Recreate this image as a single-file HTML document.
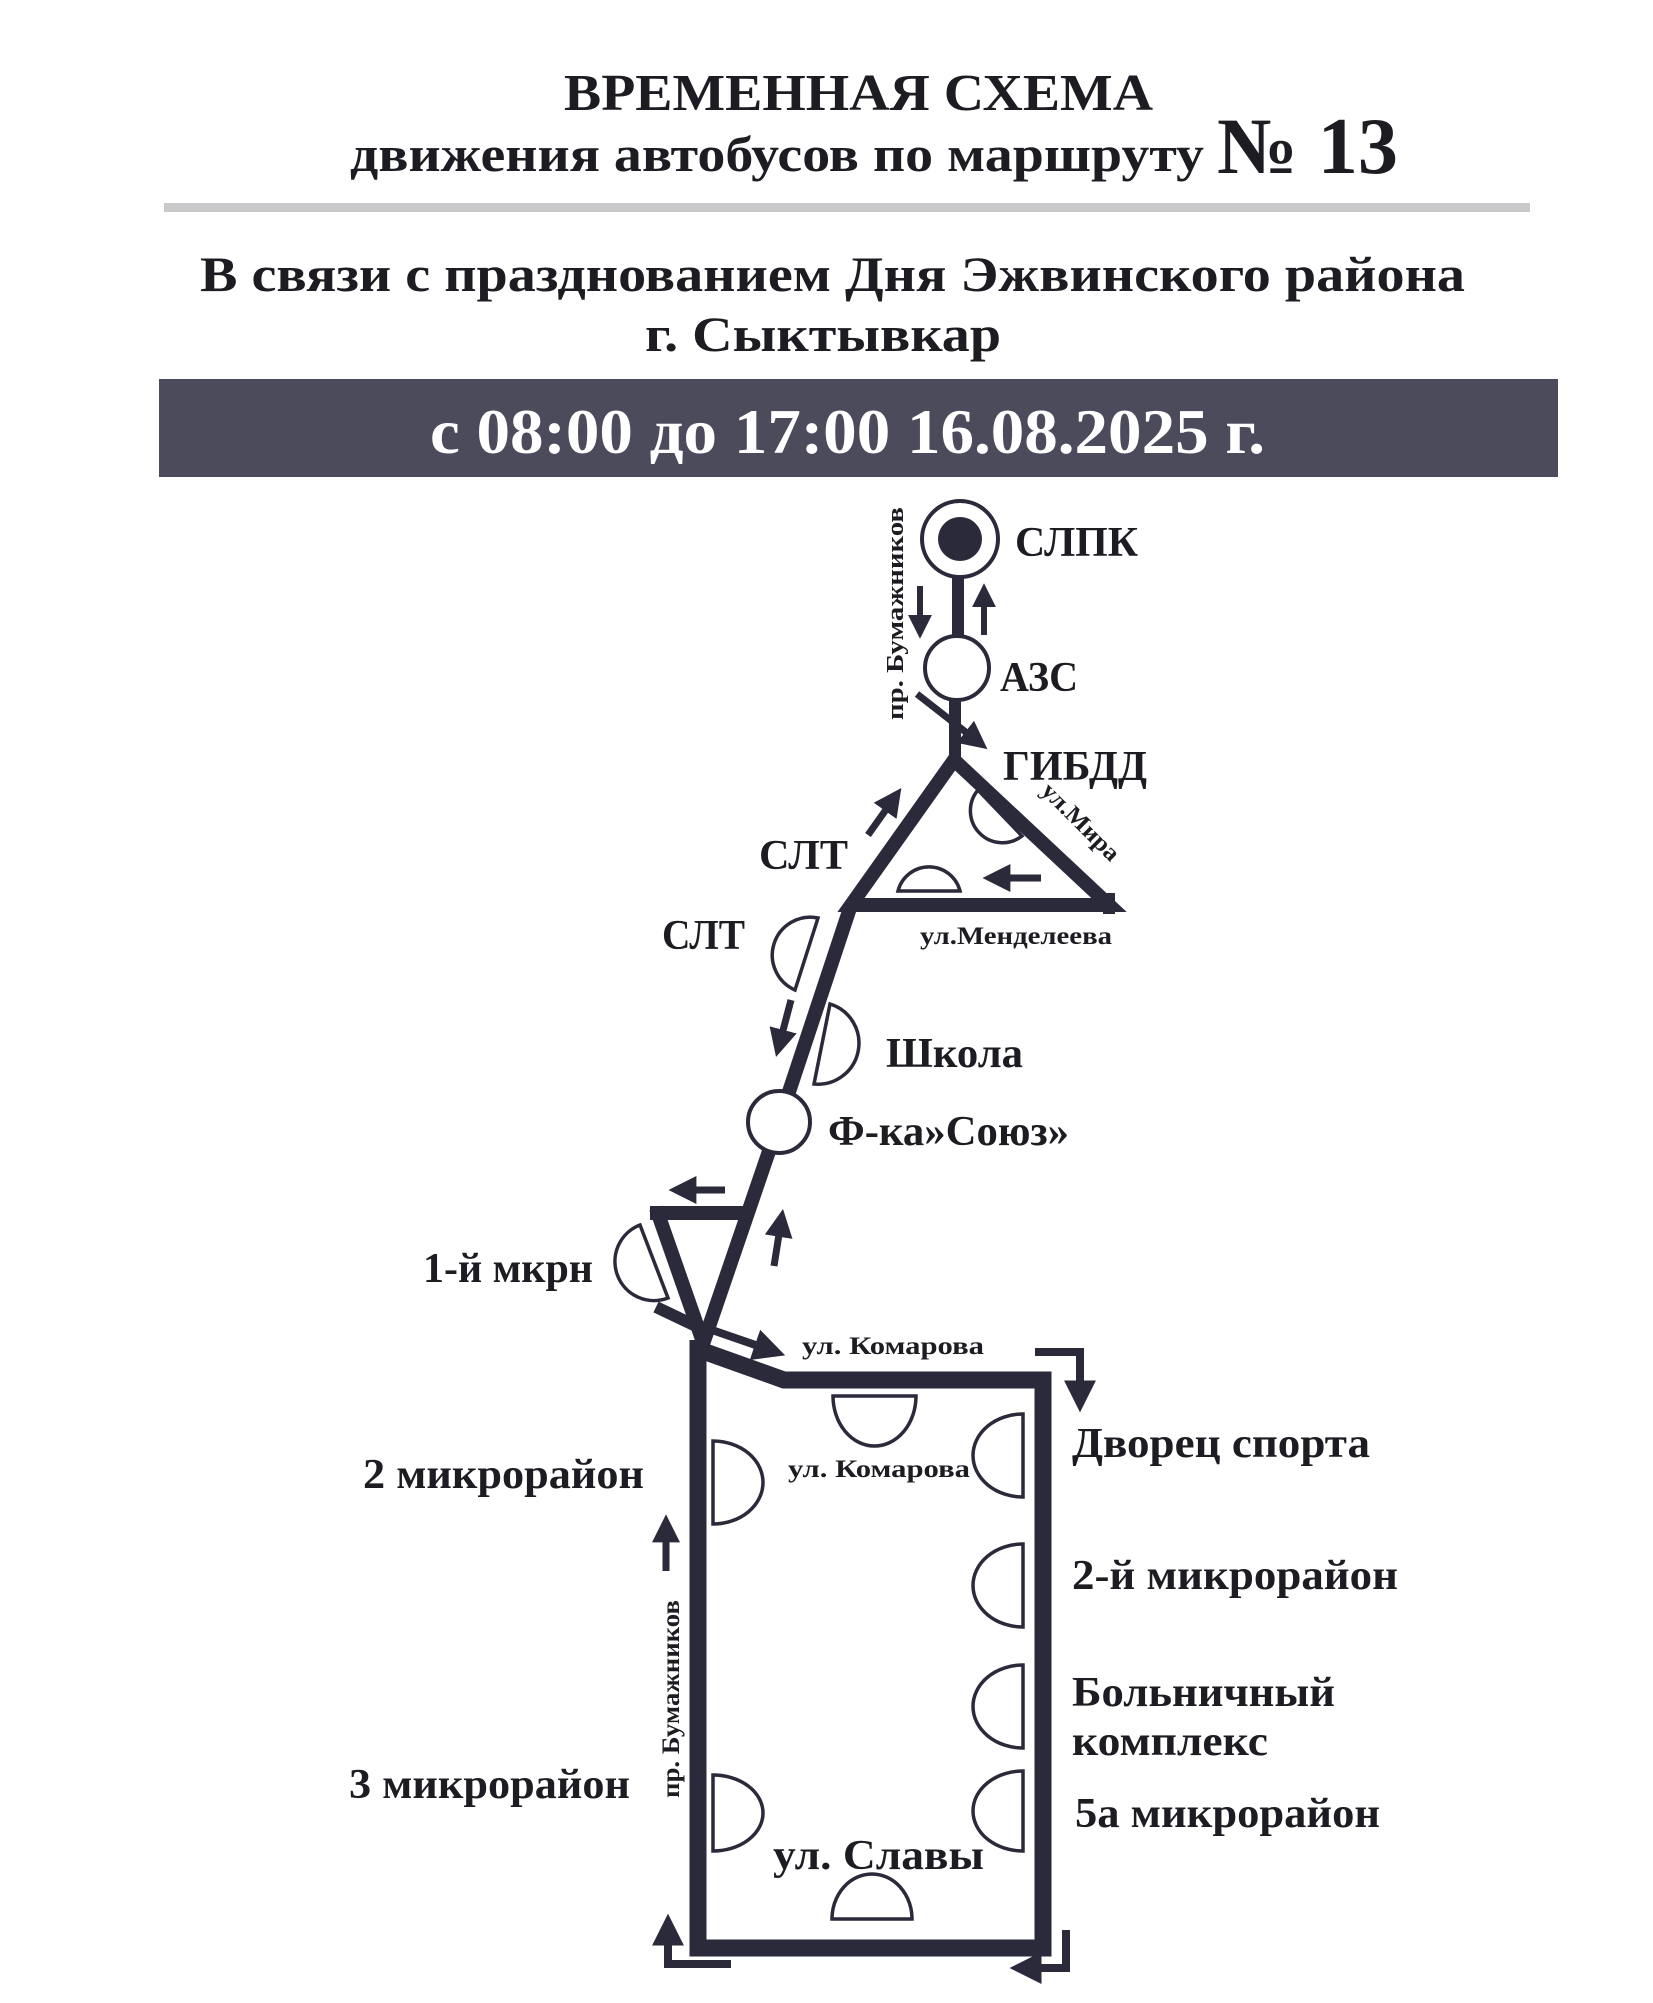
<!DOCTYPE html>
<html><head><meta charset="utf-8"><style>
html,body{margin:0;padding:0;background:#fff;}
svg{display:block;}
text{font-family:"Liberation Serif",serif;font-weight:bold;fill:#1c1c22;}
</style></head><body>
<svg width="1653" height="2003" viewBox="0 0 1653 2003" xmlns="http://www.w3.org/2000/svg">
<defs>
<marker id="ah" markerWidth="4" markerHeight="4" refX="1.2" refY="2" orient="auto" markerUnits="strokeWidth">
<path d="M0,0 L4,2 L0,4 Z" fill="#2a2a3a"/></marker>
</defs>
<!-- header -->
<text x="564" y="110" font-size="52" textLength="589" lengthAdjust="spacingAndGlyphs">ВРЕМЕННАЯ СХЕМА</text>
<text x="350" y="171" font-size="50" textLength="854" lengthAdjust="spacingAndGlyphs">движения автобусов по маршруту</text>
<text x="1217" y="173" font-size="80" textLength="181" lengthAdjust="spacingAndGlyphs">№ 13</text>
<rect x="164" y="203" width="1366" height="9" fill="#c9c9cc"/>
<text x="200" y="291" font-size="50" textLength="1265" lengthAdjust="spacingAndGlyphs">В связи с празднованием Дня Эжвинского района</text>
<text x="645" y="351" font-size="50" textLength="356" lengthAdjust="spacingAndGlyphs">г. Сыктывкар</text>
<rect x="159" y="379" width="1399" height="98" fill="#4b4b5c"/>
<text x="430" y="453" font-size="64" textLength="835" lengthAdjust="spacingAndGlyphs" style="fill:#fff">с 08:00 до 17:00 16.08.2025 г.</text>

<g stroke="#2a2a3a" fill="none">
<!-- СЛПК -->
<circle cx="960" cy="539" r="38" stroke-width="4" fill="#fff"/>
<circle cx="960" cy="539" r="22" fill="#2a2a3a" stroke="none"/>
<line x1="958" y1="577" x2="958" y2="636" stroke-width="12"/>
<line x1="920" y1="586" x2="920" y2="622" stroke-width="6" marker-end="url(#ah)"/>
<line x1="984" y1="635" x2="984" y2="600" stroke-width="6" marker-end="url(#ah)"/>
<circle cx="957" cy="668" r="32" stroke-width="4" fill="#fff"/>
<line x1="955" y1="700" x2="955" y2="762" stroke-width="12"/>
<line x1="917" y1="694" x2="972" y2="737" stroke-width="7" marker-end="url(#ah)"/>
<!-- triangle -->
<path d="M954,760 L851,905 L1109,905 Z" stroke-width="14" stroke-linejoin="miter"/>
<line x1="1109" y1="893" x2="1109" y2="914" stroke-width="12"/>
<path d="M978,790 A32,32 0 0 0 1022,836 Z" stroke-width="3.5" fill="#fff"/>
<path d="M898,891 A32,32 0 0 1 960,891 Z" stroke-width="3.5" fill="#fff"/>
<line x1="1041" y1="878" x2="1002" y2="878" stroke-width="7" marker-end="url(#ah)"/>
<line x1="868" y1="835" x2="890" y2="804" stroke-width="7" marker-end="url(#ah)"/>
<!-- main line -->
<polyline points="851,905 779,1122 702,1347" stroke-width="14"/>
<path d="M818,918 L795,990 A38,38 0 0 1 818,918 Z" stroke-width="3.5" fill="#fff"/>
<path d="M830,1004 A41,41 0 0 1 814,1084 Z" stroke-width="3.5" fill="#fff"/>
<line x1="791" y1="1000" x2="781" y2="1038" stroke-width="7" marker-end="url(#ah)"/>
<circle cx="779" cy="1122" r="31" stroke-width="4" fill="#fff"/>
<line x1="725" y1="1190" x2="688" y2="1190" stroke-width="7" marker-end="url(#ah)"/>
<polyline points="650,1213 748,1213" stroke-width="14"/>
<polyline points="656,1208 704,1345" stroke-width="14"/>
<line x1="774" y1="1266" x2="772" y2="1228" stroke-width="7" marker-end="url(#ah)" transform="rotate(12 774 1266)"/>
<path d="M640,1225 L668,1298 A39,39 0 0 1 640,1225 Z" stroke-width="3.5" fill="#fff"/>
<line x1="656" y1="1307" x2="700" y2="1328" stroke-width="12"/>
<line x1="712" y1="1330" x2="764" y2="1348" stroke-width="8" marker-end="url(#ah)"/>
<!-- rectangle -->
<path d="M698,1340 L698,1948 L1043,1948 L1043,1380 L784,1380 L700,1350" stroke-width="17" stroke-linejoin="miter"/>
<polyline points="1035,1352 1080,1352 1080,1390" stroke-width="8" marker-end="url(#ah)"/>
<polyline points="731,1964 668,1964 668,1936" stroke-width="8" marker-end="url(#ah)"/>
<polyline points="1066,1930 1066,1968 1032,1968" stroke-width="8" marker-end="url(#ah)"/>
<line x1="666" y1="1571" x2="666" y2="1534" stroke-width="7" marker-end="url(#ah)"/>
<g stroke-width="3.5" fill="#fff">
<path d="M833,1396 A41.5,50 0 0 0 916,1396 Z"/>
<path d="M832,1919 A40,45 0 0 1 912,1919 Z"/>
<path d="M1023,1414 A50,41.5 0 0 0 1023,1497 Z"/>
<path d="M1023,1544 A50,41.5 0 0 0 1023,1627 Z"/>
<path d="M1023,1665 A50,41.5 0 0 0 1023,1748 Z"/>
<path d="M1023,1771 A50,40 0 0 0 1023,1851 Z"/>
<path d="M713,1441 A50,41.5 0 0 1 713,1524 Z"/>
<path d="M713,1775 A50,38 0 0 1 713,1851 Z"/>
</g>
</g>
<!-- labels -->
<g font-size="42">
<text x="1015" y="556" textLength="123" lengthAdjust="spacingAndGlyphs">СЛПК</text>
<text x="1000" y="691" textLength="78" lengthAdjust="spacingAndGlyphs">АЗС</text>
<text x="1003" y="780" textLength="144" lengthAdjust="spacingAndGlyphs">ГИБДД</text>
<text x="759" y="869" textLength="89" lengthAdjust="spacingAndGlyphs">СЛТ</text>
<text x="662" y="949" textLength="83" lengthAdjust="spacingAndGlyphs">СЛТ</text>
<text x="886" y="1067" textLength="137" lengthAdjust="spacingAndGlyphs">Школа</text>
<text x="828" y="1145" textLength="241" lengthAdjust="spacingAndGlyphs">Ф-ка»Союз»</text>
<text x="423" y="1282" textLength="170" lengthAdjust="spacingAndGlyphs">1-й мкрн</text>
<text x="1072" y="1457" textLength="298" lengthAdjust="spacingAndGlyphs">Дворец спорта</text>
<text x="363" y="1488" textLength="281" lengthAdjust="spacingAndGlyphs">2 микрорайон</text>
<text x="1072" y="1589" textLength="326" lengthAdjust="spacingAndGlyphs">2-й микрорайон</text>
<text x="1072" y="1706" textLength="263" lengthAdjust="spacingAndGlyphs">Больничный</text>
<text x="1072" y="1755" textLength="196" lengthAdjust="spacingAndGlyphs">комплекс</text>
<text x="349" y="1798" textLength="281" lengthAdjust="spacingAndGlyphs">3 микрорайон</text>
<text x="1075" y="1827" textLength="305" lengthAdjust="spacingAndGlyphs">5а микрорайон</text>
<text x="773" y="1869" textLength="211" lengthAdjust="spacingAndGlyphs">ул. Славы</text>
</g>
<g font-size="25">
<text x="920" y="944" textLength="192" lengthAdjust="spacingAndGlyphs">ул.Менделеева</text>
<text x="802" y="1354" textLength="182" lengthAdjust="spacingAndGlyphs">ул. Комарова</text>
<text x="788" y="1477" textLength="182" lengthAdjust="spacingAndGlyphs">ул. Комарова</text>
<text transform="translate(1040,792) rotate(45)" font-size="24" textLength="100" lengthAdjust="spacingAndGlyphs">ул.Мира</text>
<text transform="translate(903,720) rotate(-90)" font-size="24" textLength="213" lengthAdjust="spacingAndGlyphs">пр. Бумажников</text>
<text transform="translate(679,1798) rotate(-90)" font-size="25" textLength="198" lengthAdjust="spacingAndGlyphs">пр. Бумажников</text>
</g>
</svg>
</body></html>
